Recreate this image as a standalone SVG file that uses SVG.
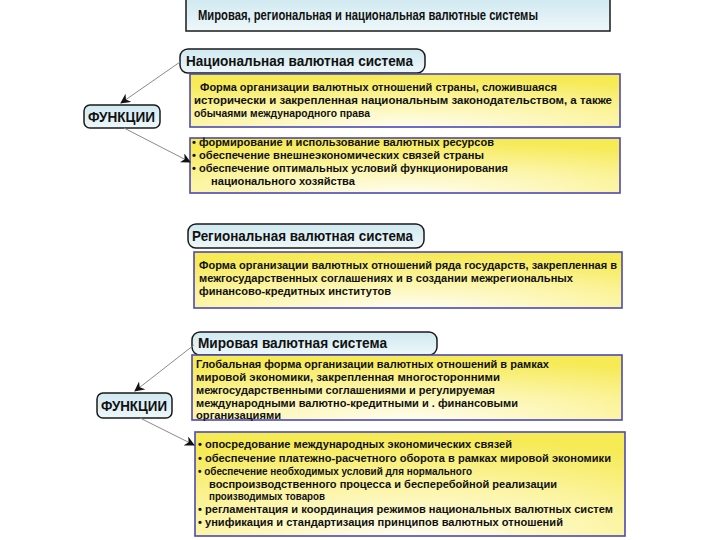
<svg xmlns="http://www.w3.org/2000/svg" width="720" height="540" viewBox="0 0 720 540">
<defs>
<linearGradient id="blueG" x1="0" y1="0" x2="0" y2="1">
<stop offset="0" stop-color="#cfe8f0"/>
<stop offset="1" stop-color="#eef8fa"/>
</linearGradient>
<radialGradient id="yelG" cx="0.5" cy="1" r="0.95" fx="0.5" fy="1">
<stop offset="0" stop-color="#fffdf0"/>
<stop offset="0.5" stop-color="#fcf5a8"/>
<stop offset="1" stop-color="#f6ea55"/>
</radialGradient>
<marker id="ah" viewBox="0 0 10 10" refX="9" refY="5" markerWidth="10" markerHeight="10" orient="auto" markerUnits="userSpaceOnUse">
<path d="M0,0 L10,5 L0,10 L3,5 z" fill="#111"/>
</marker>
</defs>
<style>
.lbl{fill:url(#blueG);stroke:#1a1a1a;stroke-width:1.5}
.yb{fill:url(#yelG);stroke:#4b49b5;stroke-width:1.6}
.t{font-family:"Liberation Sans",Arial,sans-serif;font-weight:bold;fill:#111}
.h{font-size:15px}
.s{font-size:11.5px}
.c{stroke:#8a8a8a;stroke-width:1;fill:none;marker-end:url(#ah)}
</style>
<rect width="720" height="540" fill="#fff"/>

<g id="title">
<rect x="186" y="-2" width="424" height="33" fill="url(#blueG)" stroke="#1a1a1a" stroke-width="1.5"/>
<text class="t h" x="198" y="20" textLength="340" lengthAdjust="spacingAndGlyphs">Мировая, региональная и национальная валютные системы</text>
</g>

<g id="national">
<rect class="lbl" x="180" y="49" width="245" height="24" rx="8"/>
<text class="t h" x="186" y="66" textLength="227" lengthAdjust="spacingAndGlyphs">Национальная валютная система</text>
</g>

<g id="national-def">
<rect class="yb" x="190" y="74" width="430" height="53"/>
<text class="t s" x="200" y="91" textLength="357" lengthAdjust="spacingAndGlyphs">Форма организации валютных отношений страны, сложившаяся</text>
<text class="t s" x="194" y="104" textLength="418" lengthAdjust="spacingAndGlyphs">исторически и закрепленная национальным законодательством, а также</text>
<text class="t s" x="194" y="117" textLength="176" lengthAdjust="spacingAndGlyphs">обычаями международного права</text>
</g>

<g id="func1">
<rect class="lbl" x="84" y="105" width="76" height="23" rx="6"/>
<text class="t h" x="88" y="122" textLength="67" lengthAdjust="spacingAndGlyphs">ФУНКЦИИ</text>
</g>

<g id="national-func">
<rect class="yb" x="190" y="138" width="430" height="55"/>
<text class="t s" x="192" y="146" textLength="302" lengthAdjust="spacingAndGlyphs">• формирование и использование валютных ресурсов</text>
<text class="t s" x="192" y="159" textLength="292" lengthAdjust="spacingAndGlyphs">• обеспечение внешнеэкономических связей страны</text>
<text class="t s" x="192" y="172" textLength="316" lengthAdjust="spacingAndGlyphs">• обеспечение оптимальных условий функционирования</text>
<text class="t s" x="211" y="185" textLength="144" lengthAdjust="spacingAndGlyphs">национального хозяйства</text>
</g>

<g id="regional">
<rect class="lbl" x="188" y="224" width="236" height="24" rx="8"/>
<text class="t h" x="192" y="241" textLength="221" lengthAdjust="spacingAndGlyphs">Региональная валютная система</text>
</g>

<g id="regional-def">
<rect class="yb" x="194" y="252" width="428" height="56"/>
<text class="t s" x="199" y="269" textLength="418" lengthAdjust="spacingAndGlyphs">Форма организации валютных отношений ряда государств, закрепленная в</text>
<text class="t s" x="199" y="282" textLength="374" lengthAdjust="spacingAndGlyphs">межгосударственных соглашениях и в создании межрегиональных</text>
<text class="t s" x="199" y="295" textLength="192" lengthAdjust="spacingAndGlyphs">финансово-кредитных институтов</text>
</g>

<g id="world">
<rect class="lbl" x="192" y="332" width="245" height="23" rx="8"/>
<text class="t h" x="198" y="348" textLength="189" lengthAdjust="spacingAndGlyphs">Мировая валютная система</text>
</g>

<g id="world-def">
<rect class="yb" x="192" y="355" width="430" height="65"/>
<text class="t s" x="196" y="368" textLength="353" lengthAdjust="spacingAndGlyphs">Глобальная форма организации валютных отношений в рамках</text>
<text class="t s" x="196" y="381" textLength="304" lengthAdjust="spacingAndGlyphs">мировой экономики, закрепленная многосторонними</text>
<text class="t s" x="196" y="394" textLength="299" lengthAdjust="spacingAndGlyphs">межгосударственными соглашениями и регулируемая</text>
<text class="t s" x="196" y="407" textLength="322" lengthAdjust="spacingAndGlyphs">международными валютно-кредитными и . финансовыми</text>
<text class="t s" x="196" y="419" textLength="85" lengthAdjust="spacingAndGlyphs">организациями</text>
</g>

<g id="func2">
<rect class="lbl" x="97" y="393" width="75" height="25" rx="6"/>
<text class="t h" x="101" y="411" textLength="66" lengthAdjust="spacingAndGlyphs">ФУНКЦИИ</text>
</g>

<g id="world-func">
<rect class="yb" x="195" y="432" width="430" height="104"/>
<text class="t s" x="198" y="448" textLength="314" lengthAdjust="spacingAndGlyphs">• опосредование международных экономических связей</text>
<text class="t s" x="198" y="462" textLength="413" lengthAdjust="spacingAndGlyphs">• обеспечение платежно-расчетного оборота в рамках мировой экономики</text>
<text class="t s" x="198" y="475" textLength="274" lengthAdjust="spacingAndGlyphs">• обеспечение необходимых условий для нормального</text>
<text class="t s" x="209" y="488" textLength="348" lengthAdjust="spacingAndGlyphs">воспроизводственного процесса и бесперебойной реализации</text>
<text class="t s" x="209" y="500" textLength="116" lengthAdjust="spacingAndGlyphs">производимых товаров</text>
<text class="t s" x="198" y="513" textLength="415" lengthAdjust="spacingAndGlyphs">• регламентация и координация режимов национальных валютных систем</text>
<text class="t s" x="198" y="526" textLength="365" lengthAdjust="spacingAndGlyphs">• унификация и стандартизация принципов валютных отношений</text>
</g>

<g id="connectors">
<path class="c" d="M180,62 L121,103"/>
<path class="c" d="M124,128 L190,162"/>
<path class="c" d="M194,345 L135,391"/>
<path class="c" d="M140,418 L194,445"/>
</g>
</svg>
